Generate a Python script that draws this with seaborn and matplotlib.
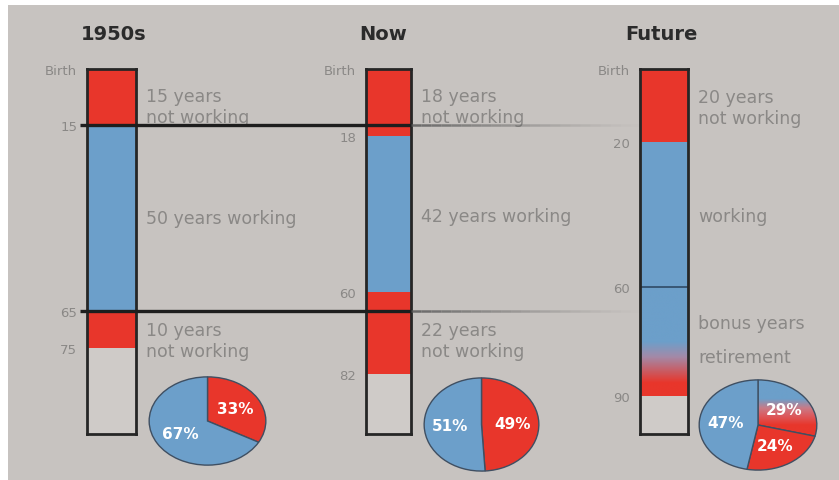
import numpy as np
import matplotlib
matplotlib.use("Agg")
import matplotlib.pyplot as plt
import seaborn as sns
from matplotlib.colors import LinearSegmentedColormap, to_rgba
from matplotlib.collections import LineCollection
from matplotlib.patches import Rectangle
from matplotlib.transforms import blended_transform_factory

# ---- data -------------------------------------------------------------
eras = ["1950s", "Now", "Future"]

# life stages: boundary ages (birth first)
stages_1950s = [0, 15, 65, 75]
stages_now = [0, 18, 60, 82]
stages_future = [0, 20, 60, 75, 90]
kinds_1950s = ["off", "work", "off"]
kinds_now = ["off", "work", "off"]
kinds_future = ["off", "work", "fade", "fade"]

tick_ages_1950s = [0, 15, 65, 75]
tick_ages_now = [0, 18, 60, 82]
tick_ages_future = [0, 20, 60, 90]
tick_labels_1950s = ["Birth", "15", "65", "75"]
tick_labels_now = ["Birth", "18", "60", "82"]
tick_labels_future = ["Birth", "20", "60", "90"]

stage_text_1950s = ["15 years\nnot working", "50 years working", "10 years\nnot working"]
stage_text_now = ["18 years\nnot working", "42 years working", "22 years\nnot working"]
stage_text_future = ["20 years\nnot working", "working", "bonus years", "retirement"]
text_ages_1950s = [10, 40, 73]
text_ages_now = [10, 39.5, 73]
text_ages_future = [10.5, 40.5, 70, 79.3]

# share of life working vs. not working (%)
pie_1950s = [33, 67]
pie_now = [49, 51]
pie_future = [29, 24, 47]

# ---- styling ----------------------------------------------------------
sns.set_theme(style="white")
plt.rcParams["font.family"] = ["DejaVu Sans"]

RED = "#e8362b"
BLUE = "#6c9fca"
BG = "#c7c3c0"
EMPTY = "#cfcbc8"
FRAME = "#262626"
TXT = "#8a8886"
age_max = [98, 98, 100.5]

W, H = 839, 481
fig = plt.figure(figsize=(W / 100, H / 100), dpi=100, facecolor="white")
fig.patches.append(Rectangle((8 / W, 0), 1, 1 - 6 / H, transform=fig.transFigure,
                             facecolor=BG, edgecolor="none", zorder=-10))


def px_rect(x0, y0, x1, y1):
    return [x0 / W, 1 - y1 / H, (x1 - x0) / W, (y1 - y0) / H]


fade_cmap = LinearSegmentedColormap.from_list(
    "fade", [(0.0, BLUE), (0.5, BLUE), (0.64, "#a38aa8"), (0.88, RED), (1.0, RED)])

bar_boxes = [(87, 70, 136, 435), (366, 70, 411, 435), (640, 70, 688, 435)]
title_x = [114, 383, 661]
all_stages = [stages_1950s, stages_now, stages_future]
all_kinds = [kinds_1950s, kinds_now, kinds_future]
all_tick_ages = [tick_ages_1950s, tick_ages_now, tick_ages_future]
all_tick_labels = [tick_labels_1950s, tick_labels_now, tick_labels_future]
all_texts = [stage_text_1950s, stage_text_now, stage_text_future]
all_text_ages = [text_ages_1950s, text_ages_now, text_ages_future]

bar_axes = []
for i, era in enumerate(eras):
    ax = fig.add_axes(px_rect(*bar_boxes[i]))
    ax.set_facecolor(EMPTY)
    edges = all_stages[i]
    kinds = all_kinds[i]
    fade_lo, fade_hi = None, None
    for k in range(len(kinds)):
        lo, hi = edges[k], edges[k + 1]
        if kinds[k] == "fade":
            fade_lo = lo if fade_lo is None else fade_lo
            fade_hi = hi
            continue
        ax.bar(0.5, hi - lo, bottom=lo, width=1.0,
               color=RED if kinds[k] == "off" else BLUE, linewidth=0, zorder=1)
    if fade_lo is not None:
        grad = np.linspace(0, 1, 200).reshape(-1, 1)
        ax.imshow(grad, cmap=fade_cmap, aspect="auto",
                  extent=(0, 1, fade_hi, fade_lo), zorder=1, interpolation="bilinear")
        ax.axhline(fade_lo, color="#2f4a66", lw=1.2, zorder=2)
    ax.set_xlim(0, 1)
    ax.set_ylim(age_max[i], 0)
    ax.set_xticks([])
    ax.set_yticks(all_tick_ages[i])
    ax.set_yticklabels(all_tick_labels[i], color=TXT, fontsize=9.5)
    ax.tick_params(axis="y", length=0, pad=7)
    for s in ax.spines.values():
        s.set_color(FRAME)
        s.set_linewidth(2)
        s.set_zorder(5)
    tr = blended_transform_factory(ax.transAxes, ax.transData)
    for txt, age in zip(all_texts[i], all_text_ages[i]):
        ax.annotate(txt, xy=(1, age), xycoords=tr, xytext=(7.5, 0),
                    textcoords="offset points", ha="left", va="center",
                    fontsize=12.5, color=TXT, linespacing=1.2, annotation_clip=False)
    fig.text(title_x[i] / W, 1 - 35 / H, era, ha="center", va="center",
             fontsize=14, fontweight="bold", color="#2b2b2b")
    bar_axes.append(ax)

# reference lines at the 1950s working-life boundaries, carried across
ax0 = bar_axes[0]
line_tr = blended_transform_factory(fig.transFigure, ax0.transData)
for age in stages_1950s[1:3]:
    segs, cols, widths = [], [], []
    segs.append([(80 / W, age), (411 / W, age)])
    cols.append(to_rgba("#1e1e1e", 1.0))
    widths.append(2.4)
    xs = np.linspace(411, 640, 24)
    for a, b in zip(xs[:-1], xs[1:]):
        t = (a - 411) / (640 - 411)
        segs.append([(a / W, age), (b / W, age)])
        cols.append(to_rgba("#5a5a5a", max(0.0, 0.85 * (1 - t) ** 1.3)))
        widths.append(1.8)
    lc = LineCollection(segs, colors=cols, linewidths=widths, transform=line_tr,
                        zorder=10, capstyle="butt")
    fig.add_artist(lc)

# pies of working vs. non-working share
pie_boxes = [(148, 377, 267, 467), (423, 378, 540, 473), (698, 380, 818, 472)]
pie_values = [pie_1950s, pie_now, pie_future]
pie_colors = [[RED, BLUE], [RED, BLUE], ["none", RED, BLUE]]
for i, vals in enumerate(pie_values):
    pax = fig.add_axes(px_rect(*pie_boxes[i]))
    wedges, _, autotexts = pax.pie(
        vals, colors=pie_colors[i], startangle=90, counterclock=False,
        autopct=lambda p: f"{p:.0f}%", pctdistance=0.55,
        wedgeprops=dict(edgecolor="#3f4f62", linewidth=1.0),
        textprops=dict(color="white", fontsize=11, fontweight="bold"))
    if pie_colors[i][0] == "none":
        grad = np.linspace(0, 1, 200).reshape(-1, 1)
        pcmap = LinearSegmentedColormap.from_list(
            "pfade", [(0.0, RED), (0.5, RED), (0.6, "#dc5a5e"), (0.68, "#c97a86"),
                      (0.78, BLUE), (1.0, BLUE)])
        im = pax.imshow(grad, cmap=pcmap, origin="lower", extent=(-1.05, 1.05, -1.05, 1.05),
                        zorder=0.5, interpolation="bilinear")
        im.set_clip_path(wedges[0])
    pax.set_aspect("auto")
    pax.set_xlim(-1.02, 1.02)
    pax.set_ylim(-1.02, 1.02)
    pax.axis("off")

fig.savefig("out.png", dpi=100, facecolor=fig.get_facecolor())
